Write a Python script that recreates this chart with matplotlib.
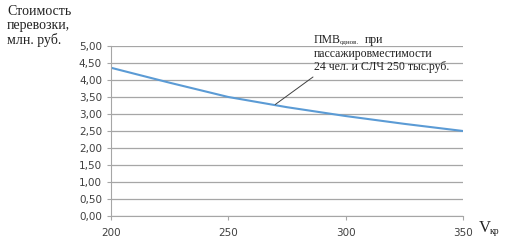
import numpy as np
import matplotlib
matplotlib.use('Agg')
import matplotlib.pyplot as plt
from matplotlib.ticker import FuncFormatter

# данные
v_kr = [200, 225, 250, 275, 300, 325, 350]
cost = [4.36, 3.92, 3.50, 3.20, 2.94, 2.71, 2.50]
x_ticks = [200, 250, 300, 350]
y_ticks = [0, 0.5, 1, 1.5, 2, 2.5, 3, 3.5, 4, 4.5, 5]

W, H = 518, 242
fig = plt.figure(figsize=(W / 100, H / 100), dpi=100)
ax = fig.add_axes([111 / W, 1 - 216 / H, (463 - 111) / W, (216 - 46) / H])

ax.plot(v_kr, cost, color='#5b9bd5', lw=1.5)
ax.set_xlim(200, 350)
ax.set_ylim(0, 5)
ax.set_xticks(x_ticks)
ax.set_yticks(y_ticks)
ax.yaxis.set_major_formatter(FuncFormatter(lambda v, p: ('%.2f' % v).replace('.', ',')))
ax.grid(axis='y', color='#a6a6a6', lw=0.9)
ax.set_axisbelow(True)
for s in ['top', 'right']:
    ax.spines[s].set_visible(False)
for s in ['left', 'bottom']:
    ax.spines[s].set_color('#a6a6a6')
ax.tick_params(axis='both', colors='#a6a6a6', labelcolor='#404040', labelsize=7.5, length=3, width=0.8)
ax.tick_params(axis='x', pad=6)

serif = 'Liberation Serif'
fig.text(7 / W, 1 - 5 / H, 'Стоимость\nперевозки,\nмлн. руб.', ha='left', va='top',
         family=serif, fontsize=10, linespacing=1.1, color='#222222')

# подпись к линии
fig.text(314 / W, 1 - 43 / H, 'ПМВ', family=serif, fontsize=8.5, va='baseline', color='#222222')
fig.text(340 / W, 1 - 44 / H, 'однов.', family=serif, fontsize=5, va='baseline', color='#222222')
fig.text(365 / W, 1 - 43 / H, 'при', family=serif, fontsize=8.5, va='baseline', color='#222222')
fig.text(314 / W, 1 - 57 / H, 'пассажировместимости', family=serif, fontsize=8.5, va='baseline', color='#222222')
fig.text(314 / W, 1 - 70 / H, '24 чел. и СЛЧ 250 тыс.руб.', family=serif, fontsize=8.5, va='baseline', color='#222222')
ax.annotate('', xy=(270, 3.28), xytext=(313 / W, 1 - 77 / H), textcoords='figure fraction',
            arrowprops=dict(arrowstyle='-', color='#404040', lw=0.7, shrinkA=0, shrinkB=0))

# подпись оси X
fig.text(479 / W, 1 - 236 / H, 'V', family=serif, fontsize=12, va='bottom', color='#222222')
fig.text(490 / W, 1 - 236 / H, 'кр', family=serif, fontsize=7, va='bottom', color='#222222')

fig.savefig('out.png', dpi=100)
